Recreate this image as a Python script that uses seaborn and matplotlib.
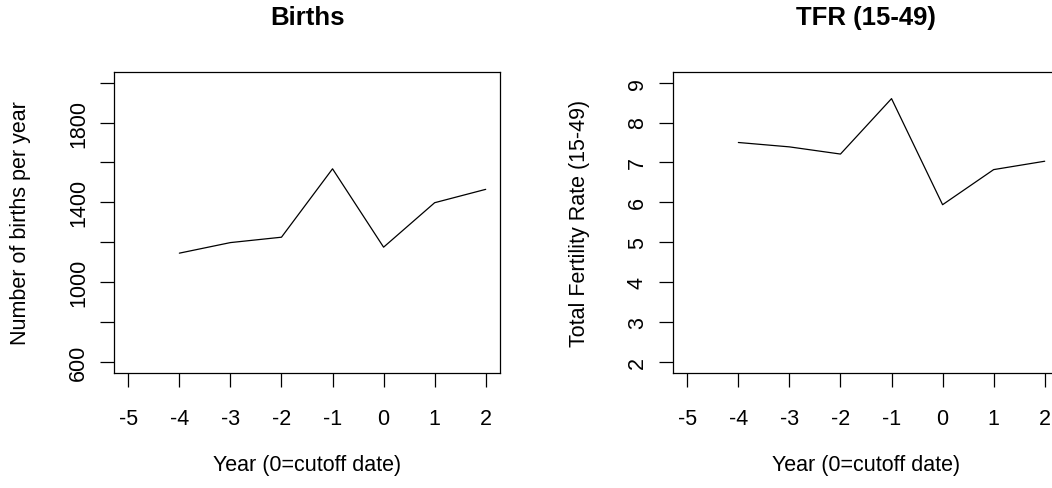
import matplotlib
matplotlib.use("Agg")
import matplotlib.pyplot as plt
import seaborn as sns
import pandas as pd

years = [-4, -3, -2, -1, 0, 1, 2]
births = [1145, 1198, 1225, 1568, 1175, 1398, 1465]
tfr = [7.50, 7.39, 7.21, 8.60, 5.94, 6.82, 7.03]

x_ticks = [-5, -4, -3, -2, -1, 0, 1, 2]
births_ticks = [600, 800, 1000, 1200, 1400, 1600, 1800, 2000]
births_tick_labels = ["600", "", "1000", "", "1400", "", "1800", ""]
tfr_ticks = [2, 3, 4, 5, 6, 7, 8, 9]

sns.set_style("ticks")
plt.rcParams["font.family"] = ["Liberation Sans", "DejaVu Sans"]
plt.rcParams["text.color"] = "black"

df = pd.DataFrame({"year": years, "births": births, "tfr": tfr})

W, H = 1052, 489
fig = plt.figure(figsize=(W / 100, H / 100), dpi=100)


def r_axes(left, title, ycol, ylabel, yticks, ylabels, ylim):
    ax = fig.add_axes([left / W, (H - 374) / H, 386 / W, 301.5 / H])
    sns.lineplot(data=df, x="year", y=ycol, ax=ax, color="black", linewidth=0.9)
    ax.set_xlim(-5 - 0.28, 2 + 0.28)
    span = ylim[1] - ylim[0]
    ax.set_ylim(ylim[0] - 0.04 * span, ylim[1] + 0.04 * span)
    ax.set_xticks(x_ticks)
    ax.set_xticklabels([str(v) for v in x_ticks])
    ax.set_yticks(yticks)
    ax.set_yticklabels(ylabels, rotation=90, va="center")
    ax.tick_params(axis="both", direction="out", length=10, width=0.9,
                   color="black", labelsize=15.5, labelcolor="black")
    ax.tick_params(axis="x", pad=15)
    ax.tick_params(axis="y", pad=8)
    for s in ax.spines.values():
        s.set_visible(True)
        s.set_linewidth(0.9)
        s.set_color("black")
    ax.set_xlabel("")
    ax.set_ylabel("")
    cx = (left + 193) / W
    fig.text(cx, 1 - 18 / H, title, ha="center", va="center",
             fontsize=18.5, fontweight="bold", color="black")
    fig.text(cx, 1 - 466 / H, "Year (0=cutoff date)", ha="center",
             va="center", fontsize=15.5, color="black")
    fig.text((left - 93) / W, 1 - 223 / H, ylabel, ha="center",
             va="center", rotation=90, fontsize=15.5, color="black")
    return ax


r_axes(114, "Births", "births", "Number of births per year",
       births_ticks, births_tick_labels, (600, 2000))
r_axes(673, "TFR (15-49)", "tfr", "Total Fertility Rate (15-49)",
       tfr_ticks, [str(v) for v in tfr_ticks], (2, 9))

fig.savefig("out.png", dpi=100)
